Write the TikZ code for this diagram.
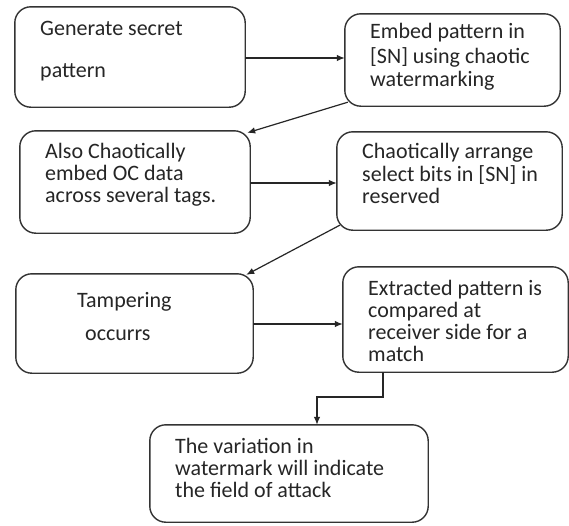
\documentclass[tikz,border=0pt]{standalone}
\usepackage{fontspec}
\setmainfont{Carlito}
\usetikzlibrary{arrows.meta,calc}
\begin{document}
\begin{tikzpicture}[x=1pt,y=-1pt,
  boxst/.style={draw=black!80, line width=1.4pt, rounded corners=16pt, fill=white},
  txt/.style={anchor=north west, inner sep=0pt, align=left, text=black!85,
    font=\fontsize{22}{22}\selectfont, yshift=10.3pt},
  arr/.style={draw=black!85, line width=1.2pt, -{Latex[length=8pt,width=6.5pt]}}]
\useasboundingbox[fill=white] (0,0) rectangle (569,525);
% boxes
\node[inner sep=0pt, minimum width=230pt, minimum height=100pt] (B1) at (130,57) {};
\node[inner sep=0pt, minimum width=215pt, minimum height=92pt] (B2) at (452.5,60) {};
\node[inner sep=0pt, minimum width=230pt, minimum height=102pt] (B3) at (135,182) {};
\node[inner sep=0pt, minimum width=225pt, minimum height=98pt] (B4) at (449.5,181) {};
\node[inner sep=0pt, minimum width=237pt, minimum height=99pt] (B5) at (134.5,323.5) {};
\node[inner sep=0pt, minimum width=225pt, minimum height=105pt] (B6) at (455.5,319.5) {};
\node[inner sep=0pt, minimum width=278pt, minimum height=97pt] (B7) at (289,473.5) {};
\foreach \b in {B1,B2,B3,B4,B5,B6,B7}{
  \draw[boxst] (\b.north west) rectangle (\b.south east);
}
% texts
\node[txt] (T1) at (40,30) {\strut Generate secret\\[20pt]pattern};
\node[txt] (T2) at (370,33) {\strut Embed pattern in\\[1.5pt][SN] using chaotic\\[1.5pt]watermarking};
\node[txt] (T3) at (45,153) {\strut Also Chaotically\\embed OC data\\across several tags.};
\node[txt] (T4) at (362,153) {\strut Chaotically arrange\\select bits in [SN] in\\reserved};
\node[txt] (T5) at (77,302) {\strut Tampering\\[11pt]\hspace*{8pt}occurrs};
\node[txt] (T6) at (368,290) {\strut Extracted pattern is\\compared at\\receiver side for a\\match};
\node[txt] (T7) at (175,448) {\strut The variation in\\watermark will indicate\\the field of attack};
% connectors
\draw[arr] (B1.east |- 0,58) -- (B2.west |- 0,58);
\draw[arr] ($(B2.south west)+(3,-4)$) -- ($(B3.north east)+(-3,2)$);
\draw[arr] (B3.east |- 0,183) -- (B4.west |- 0,183);
\draw[arr] ($(B4.south west)+(3,-5)$) -- ($(B5.north east)+(-7,1)$);
\draw[arr] (B5.east |- 0,324) -- (B6.west |- 0,324);
\coordinate (k1) at (383,397);
\coordinate (k2) at (317,397);
\draw[arr] (B6.south -| k1) -- (k1) -- (k2) -- (B7.north -| k2);
\end{tikzpicture}
\end{document}
